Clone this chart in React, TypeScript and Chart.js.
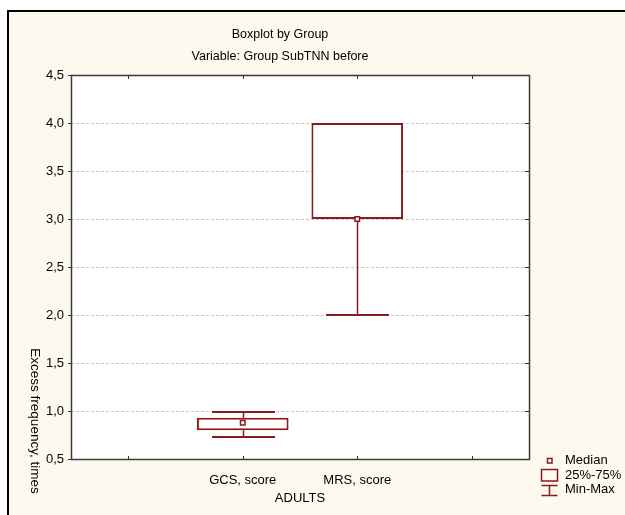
import React, { useEffect, useRef } from 'react';
import { Chart, registerables } from 'chart.js';

Chart.register(...registerables);

// ---- data ----
const categories: string[] = ['', 'GCS, score', 'MRS, score', ''];
const minValues: (number | null)[] = [null, 0.73, 2.0, null];
const q1Values: (number | null)[] = [null, 0.80, 3.0, null];
const medianValues: (number | null)[] = [null, 0.877, 3.0, null];
const q3Values: (number | null)[] = [null, 0.93, 4.0, null];
const maxValues: (number | null)[] = [null, 1.0, 4.0, null];
const yTickValues: number[] = [0.5, 1.0, 1.5, 2.0, 2.5, 3.0, 3.5, 4.0, 4.5];

const titleLines: string[] = ['Boxplot by Group', 'Variable: Group SubTNN before'];
const xTitle = 'ADULTS';
const yTitle = 'Excess frequency, times';
const legendLabels: string[] = ['Median', '25%-75%', 'Min-Max'];

// ---- styles ----
const FONT = '"Liberation Sans", Arial, sans-serif';
const RED = '#8B1A1A';
const CREAM = '#FDF9EF';

const decorPlugin = {
  id: 'decor',
  beforeDraw(chart: any) {
    const { ctx, width, height, chartArea: a } = chart;
    ctx.save();
    ctx.fillStyle = '#ffffff';
    ctx.fillRect(0, 0, width, height);
    ctx.fillStyle = CREAM;
    ctx.fillRect(7, 10, width - 7, height - 10);
    ctx.fillStyle = '#000000';
    ctx.fillRect(7, 10, 2, height - 10);
    ctx.fillRect(7, 10, width - 7, 2);
    ctx.fillStyle = '#ffffff';
    ctx.fillRect(a.left, a.top, a.right - a.left, a.bottom - a.top);
    // dashed grid lines
    const y = chart.scales.y;
    ctx.strokeStyle = '#c6c6c6';
    ctx.lineWidth = 1;
    ctx.setLineDash([3, 2]);
    yTickValues.forEach((v) => {
      if (v <= y.min || v >= y.max) return;
      const py = Math.round(y.getPixelForValue(v)) + 0.5;
      ctx.beginPath();
      ctx.moveTo(a.left, py);
      ctx.lineTo(a.right, py);
      ctx.stroke();
    });
    ctx.restore();
  },
  beforeDatasetsDraw(chart: any) {
    const { ctx } = chart;
    const x = chart.scales.x;
    const y = chart.scales.y;
    const step = x.getPixelForValue(1) - x.getPixelForValue(0);
    const capHalf = step * 0.275;
    ctx.save();
    ctx.strokeStyle = RED;
    categories.forEach((_, i) => {
      const mn = minValues[i], mx = maxValues[i], q1 = q1Values[i], q3 = q3Values[i];
      if (mn == null || mx == null || q1 == null || q3 == null) return;
      const cx = Math.round(x.getPixelForValue(i)) + 0.5;
      const yMin = Math.round(y.getPixelForValue(mn));
      const yMax = Math.round(y.getPixelForValue(mx)) + 1;
      const yQ1 = y.getPixelForValue(q1);
      const yQ3 = y.getPixelForValue(q3);
      ctx.lineWidth = 1.5;
      ctx.beginPath();
      ctx.moveTo(cx, yQ1);
      ctx.lineTo(cx, yMin);
      ctx.moveTo(cx, yQ3);
      ctx.lineTo(cx, yMax);
      ctx.stroke();
      ctx.lineWidth = 2;
      ctx.beginPath();
      ctx.moveTo(cx - capHalf, yMin);
      ctx.lineTo(cx + capHalf, yMin);
      ctx.moveTo(cx - capHalf, yMax);
      ctx.lineTo(cx + capHalf, yMax);
      ctx.stroke();
    });
    ctx.restore();
  },
  afterDraw(chart: any) {
    const { ctx, chartArea: a } = chart;
    const x = chart.scales.x;
    const y = chart.scales.y;
    ctx.save();
    // plot frame
    ctx.strokeStyle = '#3a3a3a';
    ctx.lineWidth = 1.5;
    ctx.strokeRect(a.left + 0.5, a.top + 0.5, a.right - a.left, a.bottom - a.top);
    // inward ticks
    ctx.lineWidth = 1;
    ctx.strokeStyle = '#333';
    ctx.beginPath();
    categories.forEach((_, i) => {
      const px = Math.round(x.getPixelForValue(i)) + 0.5;
      ctx.moveTo(px, a.top);
      ctx.lineTo(px, a.top + 4);
      ctx.moveTo(px, a.bottom);
      ctx.lineTo(px, a.bottom - 3);
    });
    yTickValues.forEach((v) => {
      const py = Math.round(y.getPixelForValue(v)) + 0.5;
      ctx.moveTo(a.right, py);
      ctx.lineTo(a.right - 4, py);
    });
    ctx.stroke();

    // titles
    ctx.fillStyle = '#000';
    ctx.textAlign = 'center';
    ctx.textBaseline = 'middle';
    ctx.font = `12.5px ${FONT}`;
    ctx.fillText(titleLines[0], 280, 35);
    ctx.fillText(titleLines[1], 280, 57);

    // y title (rotated clockwise)
    ctx.save();
    ctx.font = `13.5px ${FONT}`;
    ctx.translate(35, 421);
    ctx.rotate(Math.PI / 2);
    ctx.fillText(yTitle, 0, 0);
    ctx.restore();

    // legend
    const lx = 541.5;
    ctx.strokeStyle = RED;
    ctx.fillStyle = '#fff';
    ctx.lineWidth = 1.5;
    ctx.fillRect(547.5, 458.5, 4.5, 4.5);
    ctx.strokeRect(547.5, 458.5, 4.5, 4.5);
    ctx.strokeRect(lx, 469.5, 16, 11.5);
    ctx.lineWidth = 1.5;
    ctx.beginPath();
    ctx.moveTo(lx, 485.5);
    ctx.lineTo(lx + 16, 485.5);
    ctx.moveTo(lx + 8, 485.5);
    ctx.lineTo(lx + 8, 495.5);
    ctx.moveTo(lx, 495.5);
    ctx.lineTo(lx + 16, 495.5);
    ctx.stroke();
    ctx.fillStyle = '#000';
    ctx.textAlign = 'left';
    ctx.font = `13px ${FONT}`;
    ctx.fillText(legendLabels[0], 565, 460.5);
    ctx.fillText(legendLabels[1], 565, 475);
    ctx.fillText(legendLabels[2], 565, 489.5);
    ctx.restore();
  },
};

export default function App() {
  const canvasRef = useRef<HTMLCanvasElement | null>(null);

  useEffect(() => {
    const canvas = canvasRef.current;
    if (!canvas) return;
    const boxData = categories.map((_, i) =>
      q1Values[i] == null || q3Values[i] == null ? null : [q1Values[i] as number, q3Values[i] as number]
    );
    const chart = new Chart(canvas, {
      type: 'bar',
      data: {
        labels: categories,
        datasets: [
          {
            type: 'line',
            label: legendLabels[0],
            data: medianValues as any,
            showLine: false,
            pointStyle: 'rect',
            pointRadius: 3.2,
            pointHoverRadius: 3.2,
            pointBackgroundColor: '#fff',
            pointBorderColor: RED,
            pointBorderWidth: 1.5,
            order: 1,
          } as any,
          {
            type: 'bar',
            label: legendLabels[1],
            data: boxData as any,
            backgroundColor: '#ffffff',
            borderColor: RED,
            borderWidth: 2,
            borderSkipped: false,
            barPercentage: 0.8,
            categoryPercentage: 1,
            order: 2,
          } as any,
        ],
      },
      options: {
        responsive: false,
        animation: false,
        devicePixelRatio: 1,
        layout: { padding: { left: 0, top: 75, right: 96, bottom: 0 } },
        plugins: {
          legend: { display: false },
          tooltip: { enabled: false },
          title: { display: false },
        },
        scales: {
          x: {
            type: 'category',
            offset: true,
            grid: { display: false },
            border: { display: false },
            ticks: {
              color: '#000',
              font: { family: FONT, size: 13 },
              padding: 6,
              maxRotation: 0,
              autoSkip: false,
            },
            title: {
              display: true,
              text: xTitle,
              color: '#000',
              font: { family: FONT, size: 13 },
              padding: 9,
            },
            afterFit: (s: any) => {
              s.height = 56;
            },
          },
          y: {
            type: 'linear',
            min: 0.5,
            max: 4.5,
            afterBuildTicks: (s: any) => {
              s.ticks = yTickValues.map((v) => ({ value: v }));
            },
            ticks: {
              color: '#000',
              font: { family: FONT, size: 13 },
              padding: 4,
              callback: (v: any) => Number(v).toFixed(1).replace('.', ','),
            },
            grid: {
              drawOnChartArea: false,
              drawTicks: true,
              tickLength: 3,
              tickColor: '#333',
              tickWidth: 1,
            },
            border: { display: false },
            afterFit: (s: any) => {
              s.width = 71;
            },
          },
        },
      },
      plugins: [decorPlugin],
    });
    return () => chart.destroy();
  }, []);

  return (
    <div style={{ position: 'fixed', left: 0, top: 0, width: 625, height: 515 }}>
      <canvas ref={canvasRef} width={625} height={515} style={{ display: 'block', width: 625, height: 515 }} />
    </div>
  );
}
